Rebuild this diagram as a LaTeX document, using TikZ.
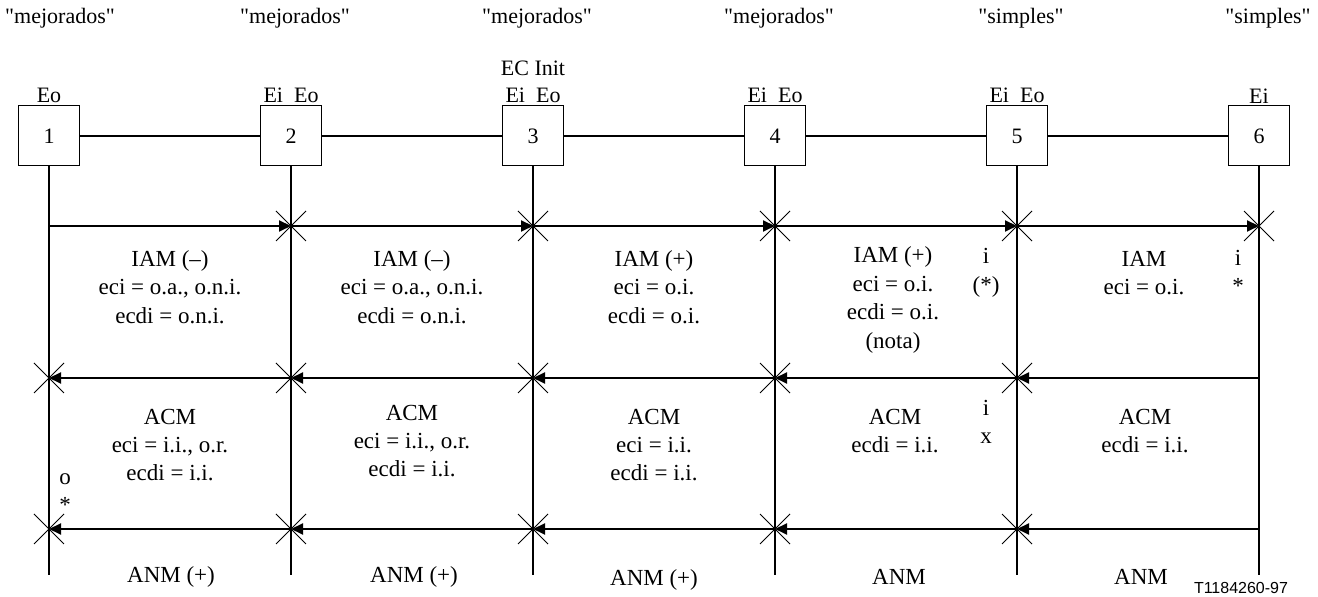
\documentclass[tikz,border=0pt]{standalone}
\usepackage{fontspec}
\setmainfont{Liberation Serif}[Ligatures=TeXOff]
\newfontfamily\tagfont{Liberation Sans}
\usetikzlibrary{arrows.meta,positioning}

\begin{document}
\begin{tikzpicture}[x=0.5pt,y=-0.5pt,font=\fontsize{11}{14}\selectfont,
    exch/.style={draw,line width=0.5pt,minimum width=30.5pt,minimum height=30pt,inner sep=0pt},
    wire/.style={line width=1pt},
    sig/.style={wire,-{Triangle[length=6pt,width=5.5pt]}},
    msg/.style={align=center,inner sep=0pt,font=\fontsize{11.5}{14.2}\selectfont}]
      \useasboundingbox (0,0) rectangle (1318,597);
      % exchanges and their time lines
      \foreach \i/\x in {1/49,2/291,3/533,4/775,5/1017,6/1259}{
        \node[exch] (n\i) at (\x,136) {\i};
        \coordinate (t\i) at (\x,575);
        \coordinate (a\i) at (\x,226);
        \coordinate (b\i) at (\x,378);
        \coordinate (c\i) at (\x,529);
        \draw[wire] (n\i.south) -- (t\i);
      }
      \draw[wire] (n1) -- (n2) -- (n3) -- (n4) -- (n5) -- (n6);
      % messages
      \foreach \i [evaluate=\i as \j using int(\i+1)] in {1,...,5}{
        \draw[sig] (a\i) -- (a\j);
        \draw[sig] (b\j) -- (b\i);
        \draw[sig] (c\j) -- (c\i);
      }
      \foreach \p in {a2,a3,a4,a5,a6,b1,b2,b3,b4,b5,c1,c2,c3,c4,c5}
        \draw[line width=0.5pt] (\p) ++(-15,-15) -- ++(30,30) (\p) ++(-15,15) -- ++(30,-30);
      % labels
      \foreach \x/\t in {60/mejorados,295/mejorados,537/mejorados,779/mejorados,1021/simples,1268/simples}
        \node (top\x) at (\x,18) {"\t"};
      \node (init) at (533,68) {EC Init};
      \node[above=1pt of n1,inner sep=0pt] (e1) {Eo};
      \foreach \i in {2,...,5}
        \node[above=1pt of n\i,inner sep=0pt] (e\i) {Ei~~Eo};
      \node[above=1pt of n6,inner sep=0pt] (e6) {Ei};
      \node[msg] (iam1) at (170,287) {IAM (–)\\eci = o.a., o.n.i.\\ecdi = o.n.i.};
      \node[msg] (iam2) at (412,287) {IAM (–)\\eci = o.a., o.n.i.\\ecdi = o.n.i.};
      \node[msg] (iam3) at (654,287) {IAM (+)\\eci = o.i.\\ecdi = o.i.};
      \node[msg] (iam4) at (893,300) {IAM (+)\\eci = o.i.\\ecdi = o.i.\\(nota)};
      \node[msg] (iam5) at (1144,273) {IAM\\eci = o.i.};
      \node[msg] (k4) at (986,273) {i\\(*)};
      \node[msg] (k5) at (1238,272) {i\\*};
      \node[msg] (acm1) at (170,445) {ACM\\eci = i.i., o.r.\\ecdi = i.i.};
      \node[msg] (acm2) at (412,441) {ACM\\eci = i.i., o.r.\\ecdi = i.i.};
      \node[msg] (acm3) at (654,445) {ACM\\eci = i.i.\\ecdi = i.i.};
      \node[msg] (acm4) at (895,431) {ACM\\ecdi = i.i.};
      \node[msg] (acm5) at (1145,431) {ACM\\ecdi = i.i.};
      \node[msg] (x4) at (986,422) {i\\x};
      \node[msg] (x1) at (65,493) {o\\*};
      \node[msg] (anm1) at (171,577) {ANM (+)};
      \node[msg] (anm2) at (414,577) {ANM (+)};
      \node[msg] (anm3) at (654,580) {ANM (+)};
      \node[msg] (anm4) at (899,577) {ANM};
      \node[msg] (anm5) at (1141,577) {ANM};
      \node[font=\tagfont\fontsize{8}{9}\selectfont] (ref) at (1241,588) {T1184260-97};
    \end{tikzpicture}
\end{document}
